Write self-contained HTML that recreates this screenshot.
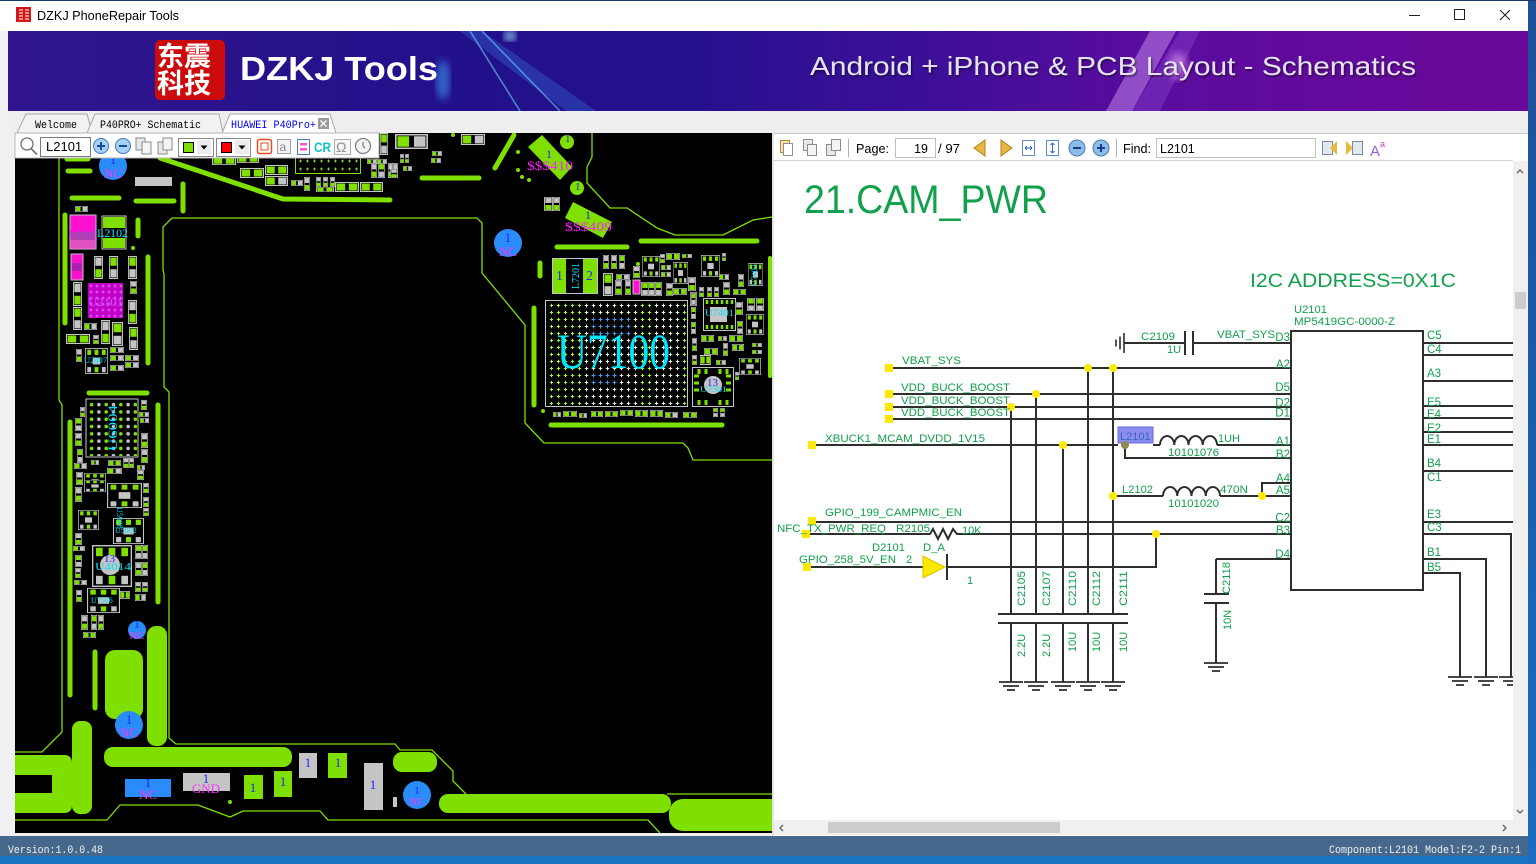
<!DOCTYPE html>
<html><head><meta charset="utf-8"><title>DZKJ PhoneRepair Tools</title>
<style>
html,body{margin:0;padding:0;background:#1b5fae;overflow:hidden;width:1536px;height:864px}
svg{display:block}
</style></head><body>
<svg xmlns="http://www.w3.org/2000/svg" width="1536" height="864" viewBox="0 0 1536 864" font-family="'Liberation Sans', sans-serif">
<defs>
 <linearGradient id="bang" x1="0" y1="0" x2="1" y2="0">
  <stop offset="0" stop-color="#30158e"/>
  <stop offset="0.3" stop-color="#22108a"/>
  <stop offset="0.45" stop-color="#26108e"/>
  <stop offset="0.6" stop-color="#3c0f98"/>
  <stop offset="0.75" stop-color="#5a0c9e"/>
  <stop offset="1" stop-color="#6a089a"/>
 </linearGradient>
 <linearGradient id="desk" x1="0" y1="0" x2="0" y2="1"><stop offset="0" stop-color="#1c4f96"/><stop offset="1" stop-color="#1a6cc0"/></linearGradient>
 <filter id="blur"><feGaussianBlur stdDeviation="4"/></filter>
 <filter id="sh"><feDropShadow dx="1" dy="1.5" stdDeviation="1" flood-color="#000" flood-opacity="0.6"/></filter>
 <clipPath id="pcbc"><rect x="15" y="133" width="757" height="700"/></clipPath>
 <clipPath id="banc"><rect x="8" y="31" width="1520" height="80"/></clipPath>
 <pattern id="pg" width="7" height="7" patternUnits="userSpaceOnUse" x="548" y="302"><path d="M1.8 3.5h3.4M3.5 1.8v3.4" stroke="#a8f030" stroke-width="1"/></pattern>
 <pattern id="pw" width="7" height="7" patternUnits="userSpaceOnUse" x="548" y="302"><path d="M1.8 3.5h3.4M3.5 1.8v3.4" stroke="#e8e8e8" stroke-width="1"/></pattern>
 <pattern id="pb" width="7" height="7" patternUnits="userSpaceOnUse" x="548" y="302"><path d="M1.8 3.5h3.4M3.5 1.8v3.4" stroke="#3a9cff" stroke-width="1"/></pattern>
 <pattern id="pp" width="6" height="6" patternUnits="userSpaceOnUse" x="88" y="283"><path d="M1.5 3h3M3 1.5v3" stroke="#ff70ff" stroke-width="0.8"/></pattern>
 <pattern id="bg6" width="14.6" height="7.3" patternUnits="userSpaceOnUse" x="88" y="401"><circle cx="3.6" cy="3.6" r="1.8" fill="#7fe000"/><circle cx="10.9" cy="3.6" r="1.8" fill="#c4c4c4"/></pattern>
 <pattern id="pt" width="7" height="8" patternUnits="userSpaceOnUse" x="297" y="157"><path d="M2 4h3M3.5 2.5v3" stroke="#a8f030" stroke-width="0.8"/></pattern>
 <symbol id="h1" viewBox="0 0 20 10" preserveAspectRatio="none"><rect x="0.5" y="0.5" width="19" height="9" fill="#000" stroke="#c4c4c4"/><rect x="1.5" y="1.5" width="7" height="7" fill="#7fe000"/><rect x="11.5" y="1.5" width="7" height="7" fill="#c4c4c4"/></symbol>
 <symbol id="h2" viewBox="0 0 20 10" preserveAspectRatio="none"><rect x="0.5" y="0.5" width="19" height="9" fill="#000" stroke="#c4c4c4"/><rect x="1.5" y="1.5" width="7" height="7" fill="#7fe000"/><rect x="11.5" y="1.5" width="7" height="7" fill="#7fe000"/></symbol>
 <symbol id="v1" viewBox="0 0 10 20" preserveAspectRatio="none"><rect x="0.5" y="0.5" width="9" height="19" fill="#000" stroke="#c4c4c4"/><rect x="1.5" y="1.5" width="7" height="7" fill="#c4c4c4"/><rect x="1.5" y="11.5" width="7" height="7" fill="#7fe000"/></symbol>
 <symbol id="v2" viewBox="0 0 10 20" preserveAspectRatio="none"><rect x="0.5" y="0.5" width="9" height="19" fill="#000" stroke="#c4c4c4"/><rect x="1.5" y="1.5" width="7" height="7" fill="#7fe000"/><rect x="1.5" y="11.5" width="7" height="7" fill="#c4c4c4"/></symbol>
 <symbol id="ic" viewBox="0 0 30 30" preserveAspectRatio="none"><rect x="0.5" y="0.5" width="29" height="29" fill="#000" stroke="#c4c4c4"/><rect x="3" y="2" width="5" height="6" fill="#7fe000"/><rect x="12.5" y="2" width="5" height="6" fill="#7fe000"/><rect x="22" y="2" width="5" height="6" fill="#7fe000"/><rect x="3" y="22" width="5" height="6" fill="#c4c4c4"/><rect x="12.5" y="22" width="5" height="6" fill="#7fe000"/><rect x="22" y="22" width="5" height="6" fill="#c4c4c4"/><rect x="10" y="11" width="10" height="8" fill="#c4c4c4"/></symbol>
</defs>

<!-- desktop / window frame -->
<rect x="0" y="0" width="1536" height="864" fill="url(#desk)"/>
<rect x="0" y="1" width="1528" height="856" fill="#eef0f2"/>
<rect x="0" y="0" width="1536" height="1" fill="#1a3a6a"/>

<!-- title bar -->
<rect x="0" y="1" width="1528" height="30" fill="#ffffff"/>
<rect x="16" y="7" width="15" height="15" fill="#d01818"/>
<path d="M19 10h4M19 13h4M19 16h4M19 19h4M25 10h4M25 13h4M25 16h4M25 19h4" stroke="#fff" stroke-width="1"/>
<text x="37" y="20" font-size="13" fill="#000" textLength="142" lengthAdjust="spacingAndGlyphs">DZKJ PhoneRepair Tools</text>
<path d="M1409 15.5h11" stroke="#222" stroke-width="1"/>
<rect x="1454.5" y="9.5" width="10" height="10" fill="none" stroke="#222" stroke-width="1"/>
<path d="M1500 10l10 10M1510 10l-10 10" stroke="#222" stroke-width="1.1"/>

<!-- banner -->
<g clip-path="url(#banc)">
<rect x="8" y="31" width="1520" height="80" fill="url(#bang)"/>
<polygon points="460,31 482,31 596,111 566,111" fill="#3a8cf0" opacity="0.28"/>
<path d="M470 31 L520 111 M482 31 L560 111" stroke="#6ad8ff" stroke-width="1.5" opacity="0.6"/>
<ellipse cx="443" cy="80" rx="7" ry="20" fill="#40a8ff" opacity="0.55" filter="url(#blur)"/>
<ellipse cx="510" cy="36" rx="6" ry="5" fill="#9ff0ff" opacity="0.8" filter="url(#blur)"/>
<polygon points="1106,111 1132,111 1176,31 1150,31" fill="#c890f0" opacity="0.5"/>
<polygon points="1132,111 1160,111 1200,31 1180,31" fill="#9050d8" opacity="0.35"/>
<ellipse cx="1178" cy="66" rx="10" ry="14" fill="#f0a0ff" opacity="0.5" filter="url(#blur)"/>
<rect x="155" y="40" width="70" height="60" rx="5" fill="#cc0c0c"/>
<text x="157" y="66" font-size="27" font-weight="bold" fill="#fff" font-family="'Noto Sans CJK SC', sans-serif">东震</text>
<text x="157" y="93" font-size="27" font-weight="bold" fill="#fff" font-family="'Noto Sans CJK SC', sans-serif">科技</text>
<text x="240" y="80" font-size="33" font-weight="bold" fill="#ffffff" textLength="198" lengthAdjust="spacingAndGlyphs">DZKJ Tools</text>
<text x="810" y="75" font-size="26" fill="#e4e2f0" filter="url(#sh)" textLength="606" lengthAdjust="spacingAndGlyphs">Android + iPhone &amp; PCB Layout - Schematics</text>
</g>

<!-- tab bar -->
<rect x="8" y="111" width="1520" height="22" fill="#eeeeee"/>
<polygon points="17,133 26,114 87,114 92,133" fill="#f2f2f2" stroke="#a8a8a8"/>
<polygon points="87,133 95,114 219,114 223,133" fill="#f2f2f2" stroke="#a8a8a8"/>
<polygon points="222,133 230,114 330,114 336,133" fill="#ffffff" stroke="#a8a8a8"/>
<text x="35" y="128" font-family="'Liberation Mono', monospace" font-size="11" fill="#000" textLength="42" lengthAdjust="spacingAndGlyphs">Welcome</text>
<text x="100" y="128" font-family="'Liberation Mono', monospace" font-size="11" fill="#000" textLength="101" lengthAdjust="spacingAndGlyphs">P40PRO+ Schematic</text>
<text x="231" y="128" font-family="'Liberation Mono', monospace" font-size="11" fill="#0000ee" textLength="85" lengthAdjust="spacingAndGlyphs">HUAWEI P40Pro+</text>
<rect x="318" y="118" width="11" height="11" fill="#9a9a9a"/>
<path d="M320.5 120.5l6 6M326.5 120.5l-6 6" stroke="#fff" stroke-width="1.3"/>

<!-- left pane -->
<rect x="8" y="133" width="767" height="703" fill="#f0f0f0"/>
<g clip-path="url(#pcbc)">
<rect x="15" y="133" width="757" height="700" fill="#000"/>
<g fill="none" stroke="#7fe000" stroke-width="1.3">
 <path d="M59 150 L59 400 L62 405 L62 732 L42 752 L15 752"/>
 <path d="M163 270 L163 227 L172 218 L477 218 L482 223 L482 273 L525 325 L525 423 L544 443 L683 443 L688 448 L693 460 L772 460"/>
 <path d="M163 270 L164 274 L164 387 L169 392 L169 738 L176 744 L395 744 L400 750 L432 750 L453 771 L453 781 L466 794"/>
 <path d="M667 794 L772 794"/>
 <path d="M15 820 L107 820 L120 805 L198 805 L230 817 L243 811 L320 811 L328 820 L648 820 L660 833"/>
 <path d="M592 133 L592 157 L587 167 L587 183 L610 208 L627 208 L657 228 L675 235 L723 235 L753 220 L772 217"/>
</g>
<g stroke="#7fe000" stroke-linecap="round" fill="none" stroke-width="5">
 <path d="M160 158 L283 199 L390 200"/>
 <path d="M67 159H88M68 171H90M72 198H119M136 201H174M183 184V211M65 215V323M148 257V363M138 220V236M89 393H147M70 422V695M158 405V602M95 652V708"/>
 <path d="M422 178H479M495 168L514 135M557 247H627M641 241H757M540 263V276M534 308V405M551 425H722"/>
 <path d="M770 258V376" stroke-width="4"/>
</g>
<g fill="#7fe000">
 <path d="M15 755 H64 Q72 755 72 763 V805 Q72 813 64 813 H15 Z"/>
 <rect x="72" y="721" width="20" height="93" rx="8"/>
 <rect x="104" y="747" width="188" height="20" rx="9"/>
 <rect x="147" y="626" width="20" height="120" rx="9"/>
 <rect x="105" y="650" width="38" height="69" rx="10"/>
 <rect x="393" y="752" width="44" height="20" rx="9"/>
 <rect x="439" y="794" width="232" height="19" rx="9"/>
 <rect x="669" y="799" width="120" height="32" rx="14"/>
 <polygon points="528,147 542,135 572,167 560,180"/>
 <polygon points="573,202 565,218 603,238 612,222"/>
 <circle cx="567" cy="142" r="7"/>
 <circle cx="577" cy="188" r="7"/>
 <circle cx="518" cy="152" r="2"/><circle cx="518" cy="170" r="2"/><circle cx="522" cy="177" r="2"/><circle cx="529" cy="180" r="2"/>
 <circle cx="638" cy="264" r="2"/><circle cx="543" cy="411" r="2"/><circle cx="230" cy="802" r="2"/><circle cx="453" cy="135" r="2"/><circle cx="133" cy="248" r="2"/>
</g>
<rect x="15" y="775" width="37" height="18" fill="#000"/>
<rect x="125" y="779" width="46" height="18" fill="#2a8cf8"/>
<rect x="183" y="773" width="47" height="18" fill="#c4c4c4"/>
<rect x="244" y="775" width="19" height="24" fill="#7fe000"/>
<rect x="274" y="771" width="18" height="26" fill="#7fe000"/>
<rect x="299" y="753" width="18" height="25" fill="#c4c4c4"/>
<rect x="328" y="753" width="19" height="25" fill="#7fe000"/>
<rect x="364" y="763" width="19" height="47" fill="#c4c4c4"/>
<rect x="380" y="763" width="3" height="47" fill="#c4c4c4"/>
<rect x="393" y="797" width="4" height="10" fill="#c4c4c4"/>
<g fill="#2a8cf8">
 <circle cx="113" cy="166" r="14"/><circle cx="508" cy="243" r="14"/><circle cx="137" cy="630" r="9"/><circle cx="129" cy="725" r="14"/><circle cx="417" cy="795" r="14"/>
</g>
<rect x="135" y="177" width="37" height="9" fill="#c4c4c4"/>
<rect x="70" y="215" width="26" height="34" fill="#ff10d0" stroke="#c4c4c4"/>
<rect x="71" y="232" width="24" height="8" fill="#b040b0"/>
<rect x="71" y="240" width="24" height="8" fill="#e050c0"/>
<rect x="102" y="216" width="24" height="33" fill="#000" stroke="#c4c4c4"/>
<rect x="103" y="217" width="22" height="11" fill="#7fe000"/>
<rect x="103" y="238" width="22" height="10" fill="#7fe000"/>
<rect x="71" y="254" width="12" height="26" fill="#ff10d0" stroke="#c4c4c4"/>
<rect x="72" y="263" width="10" height="8" fill="#b020b0"/>
<rect x="88" y="283" width="35" height="35" fill="#c000c8"/>
<rect x="88" y="283" width="35" height="35" fill="url(#pp)"/>
<rect x="86" y="399" width="52" height="58" fill="#000" stroke="#c4c4c4"/>
<rect x="87" y="400" width="50" height="56" fill="url(#bg6)"/>
<rect x="295.5" y="157.5" width="65" height="16" fill="#000" stroke="#7fe000"/>
<rect x="296" y="158" width="64" height="15" fill="url(#pt)"/>
<rect x="552.5" y="258.5" width="45" height="35" fill="#000" stroke="#c4c4c4"/>
<rect x="553" y="259" width="13" height="34" fill="#7fe000"/>
<rect x="583" y="259" width="14" height="34" fill="#7fe000"/>
<rect x="545.5" y="300.5" width="142" height="106" fill="#000" stroke="#c4c4c4"/>
<rect x="547" y="302" width="140" height="103" fill="url(#pg)"/>
<rect x="582" y="302" width="56" height="103" fill="url(#pw)" opacity="0.9"/>
<rect x="652" y="302" width="28" height="103" fill="url(#pw)"/>
<rect x="589" y="316" width="42" height="21" fill="url(#pb)"/>
<rect x="589" y="372" width="28" height="14" fill="url(#pb)"/>
<rect x="703.5" y="298.5" width="32" height="32" fill="#000" stroke="#c4c4c4"/>
<rect x="710" y="307" width="17" height="15" fill="#c4c4c4"/>
<path d="M707 300v4M712 300v4M717 300v4M722 300v4M727 300v4M732 300v4M707 325v4M712 325v4M717 325v4M722 325v4M727 325v4M732 325v4" stroke="#7fe000" stroke-width="2.5"/>
<rect x="692.5" y="367.5" width="41" height="39" fill="#000" stroke="#c4c4c4"/>
<circle cx="713" cy="385" r="9" fill="#c4c4c4"/>
<path d="M699 369v5M706 369v5M720 369v5M727 369v5M699 400v5M706 400v5M720 400v5M727 400v5M694 376h5M694 383h5M694 390h5M726 376h5M726 383h5M726 390h5" stroke="#7fe000" stroke-width="3"/>
<g>
<use href="#h1" x="75" y="206" width="13" height="6"/>
<use href="#v1" x="73" y="282" width="9" height="24"/>
<use href="#v2" x="73" y="307" width="9" height="23"/>
<use href="#v1" x="94" y="256" width="9" height="23"/>
<use href="#v2" x="109" y="256" width="9" height="23"/>
<use href="#v2" x="128" y="256" width="9" height="23"/>
<use href="#v1" x="130" y="281" width="7" height="13"/>
<use href="#v1" x="128" y="300" width="9" height="24"/>
<use href="#v2" x="129" y="327" width="9" height="23"/>
<use href="#h2" x="66" y="334" width="24" height="10"/>
<use href="#h1" x="84" y="323" width="13" height="7"/>
<use href="#v1" x="93" y="335" width="6" height="9"/>
<use href="#v1" x="101" y="320" width="9" height="24"/>
<use href="#v2" x="112" y="322" width="11" height="24"/>
<use href="#ic" x="85" y="348" width="23" height="26"/>
<use href="#v1" x="76" y="349" width="6" height="13"/>
<use href="#h1" x="110" y="347" width="14" height="6"/>
<use href="#h1" x="110" y="355" width="14" height="6"/>
<use href="#h1" x="110" y="365" width="14" height="6"/>
<use href="#h1" x="125" y="355" width="14" height="6"/>
<use href="#h1" x="125" y="362" width="14" height="6"/>
<use href="#v1" x="141" y="400" width="6" height="10"/>
<use href="#h1" x="139" y="412" width="10" height="5"/>
<use href="#h1" x="140" y="418" width="9" height="5"/>
<use href="#v1" x="141" y="433" width="7" height="15"/>
<use href="#v1" x="141" y="449" width="7" height="14"/>
<use href="#v1" x="80" y="407" width="5" height="10"/>
<use href="#v2" x="75" y="418" width="7" height="13"/>
<use href="#v1" x="75" y="433" width="7" height="13"/>
<use href="#v2" x="77" y="449" width="6" height="14"/>
<use href="#h1" x="74" y="463" width="13" height="6"/>
<use href="#h1" x="91" y="460" width="8" height="5"/>
<use href="#h2" x="108" y="460" width="13" height="6"/>
<use href="#v1" x="123" y="458" width="6" height="10"/>
<use href="#v1" x="129" y="458" width="5" height="10"/>
<use href="#h1" x="137" y="465" width="8" height="5"/>
<use href="#v1" x="76" y="472" width="7" height="13"/>
<use href="#ic" x="84" y="473" width="22" height="17"/>
<use href="#h1" x="107" y="468" width="15" height="6"/>
<use href="#v1" x="137" y="470" width="7" height="10"/>
<use href="#v1" x="75" y="487" width="7" height="15"/>
<use href="#ic" x="84" y="480" width="22" height="12"/>
<use href="#ic" x="107" y="483" width="35" height="25"/>
<use href="#v1" x="143" y="483" width="6" height="10"/>
<use href="#v1" x="143" y="497" width="6" height="10"/>
<use href="#v1" x="143" y="508" width="6" height="8"/>
<use href="#ic" x="78" y="510" width="21" height="20"/>
<use href="#ic" x="113" y="518" width="31" height="26"/>
<use href="#ic" x="92" y="545" width="40" height="42"/>
<use href="#ic" x="87" y="588" width="33" height="25"/>
<use href="#v1" x="75" y="533" width="7" height="12"/>
<use href="#h1" x="73" y="546" width="12" height="5"/>
<use href="#v2" x="75" y="555" width="7" height="12"/>
<use href="#v1" x="75" y="568" width="6" height="10"/>
<use href="#h1" x="74" y="580" width="13" height="5"/>
<use href="#v1" x="76" y="590" width="6" height="12"/>
<use href="#v2" x="135" y="545" width="7" height="14"/>
<use href="#v2" x="142" y="545" width="6" height="14"/>
<use href="#v1" x="135" y="562" width="7" height="14"/>
<use href="#v2" x="142" y="562" width="6" height="14"/>
<use href="#v1" x="135" y="582" width="6" height="10"/>
<use href="#v1" x="142" y="582" width="6" height="10"/>
<use href="#h1" x="135" y="594" width="11" height="7"/>
<use href="#h2" x="120" y="591" width="10" height="8"/>
<use href="#v1" x="81" y="615" width="7" height="15"/>
<use href="#v2" x="91" y="615" width="6" height="15"/>
<use href="#v1" x="98" y="615" width="6" height="15"/>
<use href="#h2" x="83" y="632" width="13" height="6"/>
<use href="#h2" x="212" y="157" width="24" height="8"/>
<use href="#h2" x="237" y="155" width="22" height="8"/>
<use href="#h2" x="240" y="168" width="24" height="10"/>
<use href="#h2" x="265" y="165" width="23" height="10"/>
<use href="#h1" x="265" y="176" width="23" height="10"/>
<use href="#h1" x="291" y="180" width="12" height="6"/>
<use href="#v1" x="304" y="177" width="6" height="14"/>
<use href="#v1" x="316" y="177" width="5" height="10"/>
<use href="#v1" x="323" y="177" width="5" height="10"/>
<use href="#v1" x="330" y="177" width="5" height="10"/>
<use href="#h2" x="316" y="187" width="18" height="5"/>
<use href="#h2" x="335" y="182" width="24" height="10"/>
<use href="#h2" x="360" y="182" width="23" height="10"/>
<use href="#h1" x="367" y="159" width="10" height="5"/>
<use href="#h1" x="377" y="159" width="10" height="5"/>
<use href="#v1" x="371" y="163" width="6" height="15"/>
<use href="#v2" x="378" y="163" width="7" height="15"/>
<use href="#v1" x="388" y="163" width="5" height="15"/>
<use href="#v1" x="393" y="163" width="5" height="15"/>
<use href="#v2" x="380" y="133" width="8" height="22"/>
<use href="#h1" x="395" y="134" width="33" height="15"/>
<use href="#h1" x="432" y="151" width="10" height="5"/>
<use href="#h1" x="431" y="158" width="10" height="5"/>
<use href="#h1" x="461" y="134" width="24" height="11"/>
<use href="#v1" x="400" y="154" width="4" height="9"/>
<use href="#v1" x="405" y="154" width="4" height="9"/>
<use href="#h1" x="403" y="166" width="9" height="5"/>
<use href="#v1" x="390" y="169" width="8" height="9"/>
<use href="#v1" x="544" y="197" width="9" height="14"/>
<use href="#v1" x="553" y="197" width="7" height="14"/>
<use href="#v1" x="603" y="255" width="6" height="14"/>
<use href="#v1" x="611" y="255" width="6" height="14"/>
<use href="#v2" x="619" y="255" width="6" height="14"/>
<use href="#v2" x="603" y="273" width="10" height="23"/>
<use href="#v1" x="615" y="280" width="7" height="15"/>
<use href="#v1" x="625" y="280" width="6" height="15"/>
<use href="#v1" x="633" y="266" width="7" height="12"/>
<use href="#h1" x="616" y="274" width="14" height="6"/>
<use href="#v2" x="641" y="282" width="8" height="14"/>
<use href="#v2" x="648" y="282" width="7" height="14"/>
<use href="#v2" x="655" y="282" width="7" height="14"/>
<use href="#v1" x="666" y="283" width="7" height="13"/>
<use href="#h2" x="673" y="288" width="14" height="7"/>
<use href="#ic" x="642" y="256" width="18" height="21"/>
<use href="#v1" x="660" y="254" width="5" height="9"/>
<use href="#h1" x="661" y="265" width="10" height="5"/>
<use href="#h1" x="661" y="272" width="10" height="5"/>
<use href="#h2" x="666" y="253" width="14" height="7"/>
<use href="#h1" x="682" y="254" width="10" height="4"/>
<use href="#ic" x="673" y="262" width="15" height="22"/>
<use href="#v1" x="688" y="277" width="8" height="14"/>
<use href="#v2" x="690" y="292" width="7" height="14"/>
<use href="#ic" x="701" y="255" width="19" height="22"/>
<use href="#h1" x="719" y="274" width="10" height="6"/>
<use href="#v1" x="722" y="253" width="4" height="8"/>
<use href="#v1" x="699" y="287" width="5" height="10"/>
<use href="#v1" x="707" y="287" width="5" height="10"/>
<use href="#v1" x="714" y="287" width="5" height="10"/>
<use href="#v1" x="723" y="282" width="7" height="13"/>
<use href="#h2" x="733" y="289" width="13" height="6"/>
<use href="#v1" x="738" y="274" width="6" height="13"/>
<use href="#ic" x="748" y="263" width="15" height="23"/>
<use href="#v1" x="735" y="302" width="8" height="13"/>
<use href="#v2" x="737" y="321" width="6" height="13"/>
<use href="#v2" x="747" y="298" width="8" height="13"/>
<use href="#v2" x="756" y="298" width="8" height="13"/>
<use href="#ic" x="746" y="314" width="18" height="21"/>
<use href="#v2" x="691" y="293" width="5" height="12"/>
<use href="#v2" x="691" y="307" width="5" height="12"/>
<use href="#v2" x="691" y="322" width="5" height="12"/>
<use href="#h2" x="701" y="335" width="13" height="7"/>
<use href="#h1" x="718" y="336" width="9" height="5"/>
<use href="#h2" x="729" y="335" width="14" height="7"/>
<use href="#v1" x="692" y="338" width="5" height="13"/>
<use href="#h2" x="704" y="348" width="14" height="7"/>
<use href="#v1" x="723" y="343" width="5" height="13"/>
<use href="#h2" x="732" y="344" width="12" height="7"/>
<use href="#h1" x="752" y="343" width="10" height="4"/>
<use href="#h1" x="752" y="350" width="10" height="4"/>
<use href="#v1" x="692" y="355" width="5" height="10"/>
<use href="#h2" x="700" y="355" width="11" height="10"/>
<use href="#h1" x="716" y="360" width="10" height="5"/>
<use href="#ic" x="739" y="358" width="22" height="17"/>
<use href="#v1" x="735" y="372" width="4" height="8"/>
<use href="#v2" x="713" y="408" width="5" height="9"/>
<use href="#v2" x="720" y="408" width="5" height="9"/>
<use href="#h1" x="553" y="412" width="8" height="5"/>
<use href="#h2" x="563" y="411" width="14" height="6"/>
<use href="#h1" x="579" y="413" width="8" height="5"/>
<use href="#h2" x="591" y="411" width="12" height="6"/>
<use href="#h2" x="605" y="411" width="13" height="6"/>
<use href="#h2" x="620" y="410" width="13" height="6"/>
<use href="#h2" x="635" y="410" width="13" height="7"/>
<use href="#h2" x="650" y="410" width="13" height="7"/>
<use href="#h1" x="665" y="412" width="13" height="6"/>
<use href="#h2" x="683" y="412" width="14" height="6"/>
</g>
<rect x="633" y="280" width="7" height="14" fill="#ff10d0" stroke="#c4c4c4"/>
<circle cx="110" cy="565" r="10" fill="#c4c4c4"/>
<g font-family="'Liberation Serif', serif">
 <text x="68" y="237" font-size="12" fill="#b040e0" textLength="29" lengthAdjust="spacingAndGlyphs">L2101</text>
 <text x="97" y="237" font-size="12" fill="#00e5ff" textLength="31" lengthAdjust="spacingAndGlyphs">L2102</text>
 <text x="88" y="306" font-size="12" fill="#d050ff" textLength="35" lengthAdjust="spacingAndGlyphs">U2101</text>
 <text x="84" y="363" font-size="8" fill="#00e5ff" textLength="23" lengthAdjust="spacingAndGlyphs">U2407</text>
 <text transform="translate(117,451) rotate(-90)" font-size="13" fill="#00e5ff" textLength="46" lengthAdjust="spacingAndGlyphs">U6004</text>
 <text transform="translate(117,507) rotate(90)" font-size="8" fill="#00e5ff">U5908</text>
 <text x="115" y="533" font-size="8" fill="#00e5ff">U5902</text>
 <text x="104" y="562" font-size="11" fill="#2222ff">13</text>
 <text x="95" y="570" font-size="11" fill="#00e5ff" textLength="36" lengthAdjust="spacingAndGlyphs">U4014</text>
 <text x="91" y="603" font-size="8" fill="#00e5ff">U7506</text>
 <text x="527" y="170" font-size="13" fill="#ff20ff" textLength="46" lengthAdjust="spacingAndGlyphs">$$$410</text>
 <text x="546" y="158" font-size="12" fill="#2222ff">1</text>
 <text x="565" y="231" font-size="13" fill="#ff20ff" textLength="47" lengthAdjust="spacingAndGlyphs">$$$409</text>
 <text x="585" y="219" font-size="12" fill="#2222ff">1</text>
 <text x="565" y="142" font-size="11" fill="#2222ff">1</text>
 <text x="575" y="190" font-size="11" fill="#2222ff">1</text>
 <text x="556" y="280" font-size="14" fill="#2222ff">1</text>
 <text x="586" y="280" font-size="14" fill="#2222ff">2</text>
 <text transform="translate(579,289) rotate(-90)" font-size="10" fill="#00e5ff" textLength="26" lengthAdjust="spacingAndGlyphs">L7201</text>
 <text x="557" y="368" font-size="50" fill="#00e8ff" textLength="113" lengthAdjust="spacingAndGlyphs">U7100</text>
 <text x="705" y="316" font-size="9" fill="#00e5ff" textLength="29" lengthAdjust="spacingAndGlyphs">U7401</text>
 <text x="707" y="386" font-size="11" fill="#2222ff">13</text>
 <text x="700" y="392" font-size="8" fill="#00e5ff" textLength="27" lengthAdjust="spacingAndGlyphs">U7301</text>
 <text transform="translate(757,286) rotate(-90)" font-size="8" fill="#00e5ff">U7402</text>
 <g text-anchor="middle" font-size="13">
  <text x="113" y="164" fill="#2222ff">1</text><text x="113" y="178" fill="#ff33ff">NC</text>
  <text x="508" y="242" fill="#2222ff">1</text><text x="508" y="256" fill="#ff33ff">NC</text>
  <text x="137" y="628" font-size="11" fill="#2222ff">1</text><text x="137" y="639" font-size="11" fill="#ff33ff">NC</text>
  <text x="129" y="724" fill="#2222ff">1</text><text x="129" y="737" fill="#ff33ff">NC</text>
  <text x="417" y="794" font-size="11" fill="#2222ff">1</text><text x="417" y="805" font-size="11" fill="#ff33ff">NC</text>
  <text x="148" y="787" fill="#2222ff">1</text><text x="148" y="799" fill="#ff33ff">NC</text>
  <text x="206" y="783" fill="#2222ff">1</text><text x="206" y="793" fill="#ff33ff">GND</text>
  <text x="253" y="792" fill="#2222ff">1</text>
  <text x="283" y="786" fill="#2222ff">1</text>
  <text x="308" y="767" fill="#2222ff">1</text>
  <text x="338" y="767" fill="#2222ff">1</text>
  <text x="373" y="789" fill="#2222ff">1</text>
 </g>
</g>
</g>

<!-- left toolbar -->
<rect x="15" y="133" width="364" height="25" fill="#ffffff" stroke="#b4b4b4"/>
<circle cx="27" cy="144" r="6" fill="none" stroke="#707070" stroke-width="1.3"/>
<path d="M31 148.5l6 6" stroke="#707070" stroke-width="1.6"/>
<rect x="40.5" y="137.5" width="50" height="19" fill="#fff" stroke="#7a7a7a"/>
<text x="46" y="151" font-size="13" fill="#000">L2101</text>
<circle cx="101" cy="146" r="7.5" fill="#a8d0f2" stroke="#3a7ac8"/>
<path d="M97 146h8M101 142v8" stroke="#1a4a9a" stroke-width="2"/>
<circle cx="123" cy="146" r="7.5" fill="#a8d0f2" stroke="#3a7ac8"/>
<path d="M119 146h8" stroke="#1a4a9a" stroke-width="2"/>
<rect x="136" y="138" width="9" height="12" fill="#e8e8e8" stroke="#8a8a8a"/><rect x="142" y="142" width="9" height="12" fill="#f4f4f4" stroke="#8a8a8a"/>
<rect x="158" y="142" width="9" height="12" fill="#e8e8e8" stroke="#8a8a8a"/><rect x="163" y="138" width="9" height="12" fill="#f4f4f4" stroke="#8a8a8a"/>
<rect x="178.5" y="138.5" width="35" height="18" fill="#fff" stroke="#8a8a8a"/>
<rect x="183.5" y="142.5" width="10" height="10" fill="#7fe000" stroke="#000"/>
<rect x="197" y="140" width="14" height="14" fill="#ececec"/>
<path d="M200.5 145.5h7l-3.5 4z" fill="#000"/>
<rect x="216.5" y="138.5" width="34" height="18" fill="#fff" stroke="#8a8a8a"/>
<rect x="221.5" y="142.5" width="10" height="10" fill="#ff0000" stroke="#000"/>
<rect x="235" y="140" width="14" height="14" fill="#ececec"/>
<path d="M238.5 145.5h7l-3.5 4z" fill="#000"/>
<rect x="257.5" y="139.5" width="14" height="14" rx="2" fill="#fff" stroke="#e05020" stroke-width="1.5"/>
<rect x="261" y="143" width="7" height="7" fill="none" stroke="#e05020"/>
<rect x="277.5" y="139.5" width="13" height="14" fill="#f4f4f4" stroke="#a0a0a0"/>
<text x="279.5" y="151" font-size="12" fill="#8a8a8a">a</text>
<rect x="297.5" y="139.5" width="12" height="15" fill="#fff" stroke="#4a7ab8"/>
<rect x="300" y="143" width="7" height="2.5" fill="#ff50c8"/><rect x="300" y="148" width="7" height="2.5" fill="#ff50c8"/>
<text x="314" y="152" font-size="14" font-weight="bold" fill="#10c0d0" textLength="17" lengthAdjust="spacingAndGlyphs">CR</text>
<rect x="334.5" y="139.5" width="16" height="15" fill="#f6f6f6" stroke="#b0b0b0"/>
<text x="336" y="152" font-size="14" fill="#909090">Ω</text>
<circle cx="363" cy="146" r="7.5" fill="#f2f2f2" stroke="#808080" stroke-width="1.3"/>
<path d="M363 142v4l2 2" stroke="#606060" fill="none"/>

<!-- right pane -->
<rect x="773" y="133" width="755" height="703" fill="#ffffff"/>
<rect x="773" y="133" width="755" height="1" fill="#c8c8c8"/>
<rect x="773" y="160" width="740" height="1" fill="#d4d4d4"/>
<rect x="780.5" y="140.5" width="9" height="12" fill="#f6e2a8" stroke="#b08a40"/><rect x="783.5" y="143.5" width="9" height="12" fill="#fff" stroke="#909090"/>
<rect x="803.5" y="139.5" width="9" height="11" fill="#e8e8e8" stroke="#8a8a8a"/><rect x="807.5" y="144.5" width="9" height="11" fill="#f4f4f4" stroke="#8a8a8a"/>
<rect x="826.5" y="144.5" width="9" height="11" fill="#e8e8e8" stroke="#8a8a8a"/><rect x="831.5" y="139.5" width="9" height="11" fill="#f4f4f4" stroke="#8a8a8a"/>
<rect x="848" y="139" width="1" height="18" fill="#b0b0b0"/>
<text x="856" y="153" font-size="12.5" fill="#000" textLength="33" lengthAdjust="spacingAndGlyphs">Page:</text>
<rect x="895.5" y="138.5" width="40" height="19" fill="#fff" stroke="#c0c0c0"/>
<text x="928" y="153" font-size="12.5" fill="#000" text-anchor="end">19</text>
<text x="938" y="153" font-size="12.5" fill="#000" textLength="22" lengthAdjust="spacingAndGlyphs">/ 97</text>
<polygon points="985,140 985,156 974,148" fill="#e8b840" stroke="#b08020"/>
<polygon points="1001,140 1001,156 1012,148" fill="#e8b840" stroke="#b08020"/>
<rect x="1022.5" y="140.5" width="12" height="15" fill="#fff" stroke="#5a8ac8"/>
<path d="M1025 148h7M1025 148l2-2M1025 148l2 2M1032 148l-2-2M1032 148l-2 2" stroke="#3a6ab8" fill="none"/>
<rect x="1046.5" y="140.5" width="12" height="15" fill="#fff" stroke="#5a8ac8"/>
<path d="M1052.5 143v10M1052.5 143l-2 2M1052.5 143l2 2M1052.5 153l-2-2M1052.5 153l2-2" stroke="#3a6ab8" fill="none"/>
<circle cx="1077" cy="148" r="8" fill="#8cbce8" stroke="#4a7ab8"/><path d="M1073 148h8" stroke="#1a3a8a" stroke-width="2"/>
<circle cx="1101" cy="148" r="8" fill="#8cbce8" stroke="#4a7ab8"/><path d="M1097 148h8M1101 144v8" stroke="#1a3a8a" stroke-width="2"/>
<rect x="1116" y="139" width="1" height="18" fill="#b0b0b0"/>
<text x="1123" y="153" font-size="12.5" fill="#000" textLength="28" lengthAdjust="spacingAndGlyphs">Find:</text>
<rect x="1156.5" y="138.5" width="159" height="19" fill="#fff" stroke="#c0c0c0"/>
<text x="1160" y="153" font-size="12.5" fill="#000">L2101</text>
<rect x="1322.5" y="141.5" width="10" height="13" fill="#e0e8f0" stroke="#7a8aa0"/><polygon points="1337,141 1337,155 1330,148" fill="#e8b840"/>
<polygon points="1346,141 1346,155 1353,148" fill="#e8b840"/><rect x="1352.5" y="141.5" width="10" height="13" fill="#e0e8f0" stroke="#7a8aa0"/>
<text x="1370" y="156" font-size="15" fill="#9a60e8">A</text><text x="1380" y="147" font-size="9" fill="#d040d0">a</text>

<!-- schematic -->
<g fill="#11a04c">
 <text x="804" y="213" font-size="40" textLength="244" lengthAdjust="spacingAndGlyphs">21.CAM_PWR</text>
 <text x="1250" y="287" font-size="19.5" textLength="206" lengthAdjust="spacingAndGlyphs">I2C ADDRESS=0X1C</text>
</g>
<rect x="1118" y="427" width="35" height="16" fill="#8a8cf0" stroke="#6a6ad8"/>
<g fill="none" stroke="#2e2e2e" stroke-width="2">
 <path d="M1291 331H1423V590H1291Z"/>
 <path d="M1124 343H1185M1185 331V355M1193 331V355M1193 343H1291"/>
 <path d="M1116 339.5V346.5M1120 336.5V349.5M1124 333V353" stroke-width="1.6"/>
 <path d="M889 368H1291M889 394H1291M889 407H1291M889 419H1291"/>
 <path d="M812 445H1118M1153 445H1160M1217 445H1291"/>
 <path d="M1160 445a7.125 9 0 0 1 14.25 0a7.125 9 0 0 1 14.25 0a7.125 9 0 0 1 14.25 0a7.125 9 0 0 1 14.25 0"/>
 <path d="M1125 443V458H1291"/>
 <path d="M1262 496V483H1291"/>
 <path d="M1113 496H1163M1220 496H1291"/>
 <path d="M1163 496a7.125 9 0 0 1 14.25 0a7.125 9 0 0 1 14.25 0a7.125 9 0 0 1 14.25 0a7.125 9 0 0 1 14.25 0"/>
 <path d="M812 522H1291"/>
 <path d="M806 534H930l3 -5l5 10l5 -10l5 10l5 -10l4 5l2 0H1291"/>
 <path d="M1216 559H1291M1216 559V594M1204 594H1229M1204 603H1229M1216 603V663"/>
 <path d="M807 567H923M947 567H1156V534M947 554V580"/>
 <path d="M1011 407V614M1011 623V682M1036 394V614M1036 623V682M1063 445V614M1063 623V682M1088 368V614M1088 623V682M1113 368V614M1113 623V682"/>
 <path d="M998 614H1128M998 623H1128"/>
 <path d="M1423 343H1513M1423 355H1513M1423 381H1513M1423 406H1513M1423 418H1513M1423 432H1513M1423 445H1513M1423 471H1513M1423 522H1513M1423 534H1511V677M1423 559H1486V677M1423 573H1460V677"/>
 <g stroke-width="1.8">
  <path d="M999 682h24M1003 686h16M1007 690h8"/>
  <path d="M1024 682h24M1028 686h16M1032 690h8"/>
  <path d="M1051 682h24M1055 686h16M1059 690h8"/>
  <path d="M1076 682h24M1080 686h16M1084 690h8"/>
  <path d="M1101 682h24M1105 686h16M1109 690h8"/>
  <path d="M1204 663h24M1208 667h16M1212 671h8"/>
  <path d="M1448 677h24M1452 681h16M1456 685h8"/>
  <path d="M1474 677h24M1478 681h16M1482 685h8"/>
  <path d="M1499 677h24M1503 681h16M1507 685h8"/>
 </g>
</g>
<polygon points="923,556 923,578 945,567" fill="#ffe800" stroke="#d8c000"/>
<g fill="#ffe800">
 <rect x="885" y="364" width="8" height="8"/><rect x="885" y="390" width="8" height="8"/><rect x="885" y="403" width="8" height="8"/><rect x="885" y="415" width="8" height="8"/>
 <rect x="808" y="441" width="8" height="8"/><rect x="808" y="517" width="8" height="8"/><rect x="802" y="530" width="8" height="8"/><rect x="803" y="563" width="8" height="8"/>
 <circle cx="1088" cy="368" r="4"/><circle cx="1113" cy="368" r="4"/><circle cx="1036" cy="394" r="4"/><circle cx="1011" cy="407" r="4"/><circle cx="1063" cy="445" r="4"/><circle cx="1113" cy="496" r="4"/><circle cx="1262" cy="496" r="4"/><circle cx="1156" cy="534" r="4"/>
</g>
<circle cx="1125" cy="445" r="4" fill="#8c8a50"/>
<text x="1120" y="440" font-size="11" fill="#3a68b8">L2101</text>
<g fill="#11a04c" font-size="11">
 <text x="902" y="364" textLength="59" lengthAdjust="spacingAndGlyphs">VBAT_SYS</text>
 <text x="901" y="391" textLength="109" lengthAdjust="spacingAndGlyphs">VDD_BUCK_BOOST</text>
 <text x="901" y="404" textLength="109" lengthAdjust="spacingAndGlyphs">VDD_BUCK_BOOST</text>
 <text x="901" y="416" textLength="109" lengthAdjust="spacingAndGlyphs">VDD_BUCK_BOOST</text>
 <text x="825" y="442" textLength="160" lengthAdjust="spacingAndGlyphs">XBUCK1_MCAM_DVDD_1V15</text>
 <text x="825" y="516" textLength="137" lengthAdjust="spacingAndGlyphs">GPIO_199_CAMPMIC_EN</text>
 <text x="777" y="532" textLength="109" lengthAdjust="spacingAndGlyphs">NFC_TX_PWR_REQ</text>
 <text x="896" y="532" textLength="34" lengthAdjust="spacingAndGlyphs">R2105</text>
 <text x="962" y="534">10K</text>
 <text x="872" y="551" textLength="33" lengthAdjust="spacingAndGlyphs">D2101</text>
 <text x="923" y="551" textLength="22" lengthAdjust="spacingAndGlyphs">D_A</text>
 <text x="799" y="563" textLength="97" lengthAdjust="spacingAndGlyphs">GPIO_258_5V_EN</text>
 <text x="906" y="563">2</text>
 <text x="967" y="584">1</text>
 <text x="1141" y="340" textLength="34" lengthAdjust="spacingAndGlyphs">C2109</text>
 <text x="1167" y="353">1U</text>
 <text x="1217" y="338" textLength="58" lengthAdjust="spacingAndGlyphs">VBAT_SYS</text>
 <text x="1294" y="313" textLength="33" lengthAdjust="spacingAndGlyphs">U2101</text>
 <text x="1294" y="325" textLength="101" lengthAdjust="spacingAndGlyphs">MP5419GC-0000-Z</text>
 <text x="1218" y="442">1UH</text>
 <text x="1168" y="456" textLength="51" lengthAdjust="spacingAndGlyphs">10101076</text>
 <text x="1122" y="493" textLength="31" lengthAdjust="spacingAndGlyphs">L2102</text>
 <text x="1220" y="493" textLength="28" lengthAdjust="spacingAndGlyphs">470N</text>
 <text x="1168" y="507" textLength="51" lengthAdjust="spacingAndGlyphs">10101020</text>
 <text transform="translate(1025,606) rotate(-90)" textLength="35" lengthAdjust="spacingAndGlyphs">C2105</text>
 <text transform="translate(1050,606) rotate(-90)" textLength="35" lengthAdjust="spacingAndGlyphs">C2107</text>
 <text transform="translate(1076,606) rotate(-90)" textLength="35" lengthAdjust="spacingAndGlyphs">C2110</text>
 <text transform="translate(1100,606) rotate(-90)" textLength="35" lengthAdjust="spacingAndGlyphs">C2112</text>
 <text transform="translate(1127,606) rotate(-90)" textLength="35" lengthAdjust="spacingAndGlyphs">C2111</text>
 <text transform="translate(1025,657) rotate(-90)">2.2U</text>
 <text transform="translate(1050,657) rotate(-90)">2.2U</text>
 <text transform="translate(1076,652) rotate(-90)">10U</text>
 <text transform="translate(1100,652) rotate(-90)">10U</text>
 <text transform="translate(1127,652) rotate(-90)">10U</text>
 <text transform="translate(1230,594) rotate(-90)" textLength="32" lengthAdjust="spacingAndGlyphs">C2118</text>
 <text transform="translate(1231,630) rotate(-90)">10N</text>
</g>
<g fill="#11a04c" font-size="11.5" text-anchor="end">
 <text x="1290" y="341">D3</text><text x="1290" y="368">A2</text><text x="1290" y="391">D5</text><text x="1290" y="406.5">D2</text><text x="1290" y="416.5">D1</text><text x="1290" y="445">A1</text><text x="1290" y="458">B2</text><text x="1290" y="482">A4</text><text x="1290" y="494">A5</text><text x="1290" y="521.5">C2</text><text x="1290" y="534">B3</text><text x="1290" y="558">D4</text>
</g>
<g fill="#11a04c" font-size="11.5">
 <text x="1427" y="339">C5</text><text x="1427" y="353">C4</text><text x="1427" y="377">A3</text><text x="1427" y="406">E5</text><text x="1427" y="418">E4</text><text x="1427" y="432">E2</text><text x="1427" y="443">E1</text><text x="1427" y="467">B4</text><text x="1427" y="481">C1</text><text x="1427" y="518">E3</text><text x="1427" y="531">C3</text><text x="1427" y="556">B1</text><text x="1427" y="571">B5</text>
</g>

<!-- scrollbars -->
<rect x="1513" y="161" width="15" height="659" fill="#f0f0f0"/>
<rect x="1515" y="292" width="11" height="17" fill="#cdcdcd"/>
<path d="M1517 173l3-3l3 3" stroke="#606060" fill="none" stroke-width="1.3"/>
<path d="M1517 810l3 3l3-3" stroke="#606060" fill="none" stroke-width="1.3"/>
<rect x="773" y="820" width="755" height="15" fill="#f0f0f0"/>
<rect x="828" y="822" width="232" height="11" fill="#cdcdcd"/>
<path d="M783 825l-3 3l3 3" stroke="#606060" fill="none" stroke-width="1.3"/>
<path d="M1503 825l3 3l-3 3" stroke="#606060" fill="none" stroke-width="1.3"/>
<rect x="772" y="133" width="2" height="703" fill="#e4e4e4"/>

<!-- status bar -->
<rect x="0" y="836" width="1528" height="20" fill="#45688c"/>
<rect x="0" y="856" width="1528" height="8" fill="#1a76c4"/>
<text x="8" y="853" font-family="'Liberation Mono', monospace" font-size="11" fill="#f0f0f0" textLength="95" lengthAdjust="spacingAndGlyphs">Version:1.0.0.48</text>
<text x="1329" y="853" font-family="'Liberation Mono', monospace" font-size="11" fill="#f0f0f0" textLength="192" lengthAdjust="spacingAndGlyphs">Component:L2101 Model:F2-2 Pin:1</text>
</svg>
</body></html>
